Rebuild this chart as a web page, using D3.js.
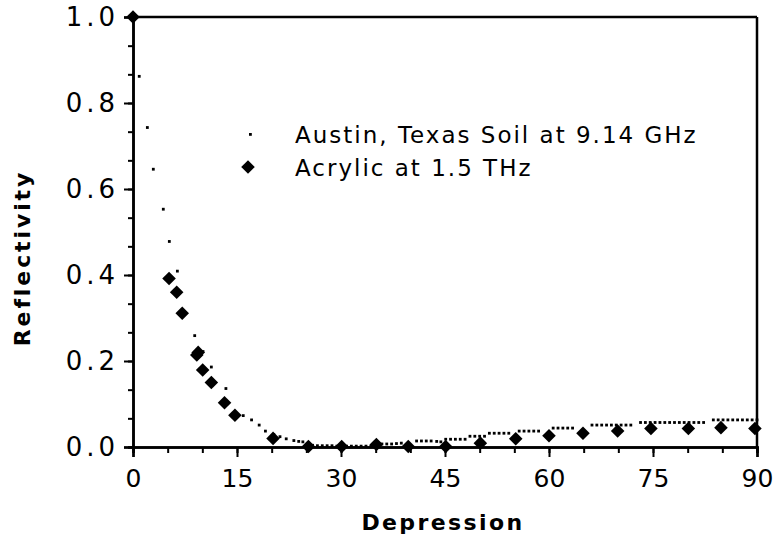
<!DOCTYPE html>
<html>
<head>
<meta charset="utf-8">
<script src="https://cdn.jsdelivr.net/npm/d3@7"></script>
<style>
  body { margin: 0; background: #fff; }
  svg { font-family: "DejaVu Sans", Verdana, sans-serif; }
</style>
</head>
<body>
<div id="chart"></div>
<script>
// soil reflectivity at 9.14 GHz (small square markers)
const soilDepression = [
    0, 0.9, 2.07, 2.93, 4.37, 5.24, 6.4, 8.9, 10.1, 11.3, 13.4, 15.9, 17.1, 18.2, 19.1, 20.3,
    21.2, 22.1, 23.2, 23.9, 24.5, 25.2, 25.9, 26.6, 27.3, 28.0, 28.7, 29.4, 30.1, 30.8, 31.5,
    32.2, 32.9, 33.6, 34.3, 35.9, 36.6, 37.3, 38.0, 38.7, 40.9, 41.6, 42.3, 43.0, 43.8, 44.4,
    45.1, 45.8, 46.5, 47.2, 47.9, 48.6, 49.3, 50.0, 50.7, 51.4, 52.1, 52.8, 53.5, 54.2,
    55.7, 56.4, 57.1, 57.8, 58.5, 60.6, 61.3, 62.0, 62.7, 63.4, 66.2, 66.9, 67.6, 68.3,
    69.0, 69.7, 70.4, 71.1, 71.8, 73.2, 73.9, 74.6, 75.3, 76.0, 76.7, 77.4, 78.1, 78.8,
    79.5, 80.2, 80.9, 81.6, 82.3, 83.7, 84.4, 85.1, 85.8, 86.5, 87.2, 87.9, 88.6, 89.3, 90.0
];
const soilReflectivity = [
    1.0, 0.862, 0.743, 0.646, 0.553, 0.478, 0.409, 0.259, 0.222, 0.186, 0.136, 0.073, 0.063, 0.051, 0.037, 0.029,
    0.024, 0.019, 0.015, 0.013, 0.012, 0.004, 0.004, 0.003, 0.003, 0.003, 0.003, 0.002, 0.002, 0.002, 0.002,
    0.002, 0.002, 0.002, 0.002, 0.007, 0.007, 0.007, 0.008, 0.009, 0.014, 0.014, 0.014, 0.014, 0.013, 0.012,
    0.018, 0.018, 0.018, 0.018, 0.018, 0.025, 0.025, 0.025, 0.025, 0.032, 0.032, 0.032, 0.032, 0.032,
    0.037, 0.037, 0.037, 0.037, 0.037, 0.044, 0.044, 0.044, 0.044, 0.044, 0.051, 0.051, 0.051, 0.051,
    0.051, 0.051, 0.051, 0.051, 0.051, 0.057, 0.057, 0.057, 0.057, 0.057, 0.057, 0.057, 0.057, 0.057,
    0.057, 0.057, 0.057, 0.057, 0.057, 0.063, 0.063, 0.063, 0.063, 0.063, 0.063, 0.063, 0.063, 0.063, 0.063
];

// acrylic at 1.5 THz (diamonds)
const acrylicDepression = [0, 5.2, 6.3, 7.1, 9.2, 9.4, 10.05, 11.3, 13.2, 14.7, 20.2, 25.3, 30.1, 35.1, 39.7, 45.1, 50.1, 55.2, 60, 64.9, 69.9, 74.7, 80.1, 84.8, 89.7];
const acrylicReflectivity = [1.0, 0.392, 0.36, 0.311, 0.214, 0.22, 0.179, 0.15, 0.103, 0.074, 0.02, 0.001, 0.001, 0.006, 0.001, 0.001, 0.009, 0.019, 0.026, 0.032, 0.037, 0.043, 0.043, 0.045, 0.043];

const xTicks = [0, 15, 30, 45, 60, 75, 90];
const yTicks = [0, 0.2, 0.4, 0.6, 0.8, 1.0];

const legendLabels = ["Austin, Texas Soil at 9.14 GHz", "Acrylic at 1.5 THz"];

const width = 774, height = 542;
const margin = { left: 133, right: 17, top: 17, bottom: 95 };

const svg = d3.select("#chart").append("svg")
    .attr("width", width)
    .attr("height", height);

const x = d3.scaleLinear().domain([0, 90]).range([margin.left, width - margin.right]);
const y = d3.scaleLinear().domain([0, 1]).range([height - margin.bottom, margin.top]);

const axisStyle = g => {
    g.attr("font-family", null);
    g.select(".domain").attr("stroke", "#000").attr("stroke-width", 2.5);
    g.selectAll(".tick line").attr("stroke", "#000").attr("stroke-width", 2);
    g.selectAll(".tick text")
        .attr("fill", "#000")
        .style("font-size", "26px");
};

// minor ticks first
svg.append("g")
    .attr("transform", `translate(0,${y(0)})`)
    .call(d3.axisBottom(x).tickValues(d3.range(0, 91, 5)).tickSize(6).tickFormat(""))
    .call(axisStyle);
svg.append("g")
    .attr("transform", `translate(${x(0)},0)`)
    .call(d3.axisLeft(y).tickValues(d3.range(0, 16).map(i => i / 15)).tickSize(5).tickFormat(""))
    .call(axisStyle);

svg.append("g")
    .attr("transform", `translate(0,${y(0)})`)
    .call(d3.axisBottom(x).tickValues(xTicks).tickSize(10).tickPadding(12).tickFormat(d3.format("d")))
    .call(axisStyle)
    .selectAll(".tick text")
    .style("font-size", "25px");

svg.append("g")
    .attr("transform", `translate(${x(0)},0)`)
    .call(d3.axisLeft(y).tickValues(yTicks).tickSize(9).tickPadding(5).tickFormat(d3.format(".1f")))
    .call(axisStyle)
    .selectAll(".tick text")
    .style("letter-spacing", "4px");

// frame top and right
svg.append("line")
    .attr("x1", x(0)).attr("x2", x(90)).attr("y1", y(1)).attr("y2", y(1))
    .attr("stroke", "#000").attr("stroke-width", 2.5);
svg.append("line")
    .attr("x1", x(90)).attr("x2", x(90)).attr("y1", y(1)).attr("y2", y(0))
    .attr("stroke", "#000").attr("stroke-width", 2.5);

// axis titles
svg.append("text")
    .attr("x", (x(0) + x(90)) / 2 - 2)
    .attr("y", 530)
    .attr("text-anchor", "middle")
    .style("font-size", "22px")
    .style("font-weight", "bold")
    .style("letter-spacing", "2.4px")
    .text("Depression");

svg.append("text")
    .attr("transform", `translate(30,${(y(0) + y(1)) / 2 + 26}) rotate(-90)`)
    .attr("text-anchor", "middle")
    .style("font-size", "22px")
    .style("font-weight", "bold")
    .style("letter-spacing", "2.9px")
    .text("Reflectivity");

// data
const soil = soilDepression.map((d, i) => ({ x: d, y: soilReflectivity[i] }));
const acrylic = acrylicDepression.map((d, i) => ({ x: d, y: acrylicReflectivity[i] }));

svg.append("g")
    .selectAll("rect")
    .data(soil)
    .enter().append("rect")
    .attr("x", d => x(d.x) - 1.4)
    .attr("y", d => y(d.y) - 1.4)
    .attr("width", 2.8)
    .attr("height", 2.8)
    .attr("fill", "#000");

const diamond = d3.symbol().type(d3.symbolSquare).size(92);

svg.append("g")
    .selectAll("path")
    .data(acrylic)
    .enter().append("path")
    .attr("d", diamond)
    .attr("transform", d => `translate(${x(d.x)},${y(d.y)}) rotate(45)`)
    .attr("fill", "#000");

// legend
const legend = svg.append("g");
legend.append("rect")
    .attr("x", 249).attr("y", 133)
    .attr("width", 2.8).attr("height", 2.8)
    .attr("fill", "#000");
legend.append("path")
    .attr("d", diamond)
    .attr("transform", "translate(248,167) rotate(45)")
    .attr("fill", "#000");

legend.selectAll("text")
    .data(legendLabels)
    .enter().append("text")
    .attr("x", 295)
    .attr("y", (d, i) => 143 + i * 33)
    .style("font-size", "23px")
    .style("letter-spacing", "2px")
    .text(d => d);
</script>
</body>
</html>
